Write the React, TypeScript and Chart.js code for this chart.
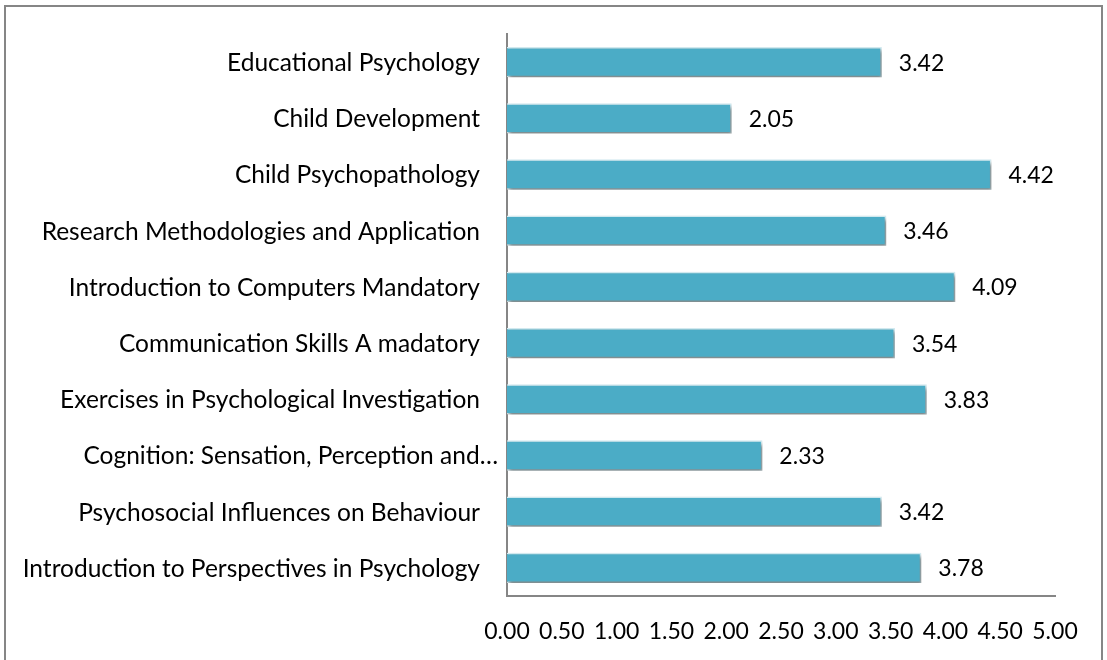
import React, { useEffect, useRef } from "react";
import { Chart, registerables } from "chart.js";

Chart.register(...registerables);

const categories: string[] = [
  "Educational Psychology",
  "Child Development",
  "Child Psychopathology",
  "Research Methodologies and Application",
  "Introduction to Computers Mandatory",
  "Communication Skills A madatory",
  "Exercises in Psychological Investigation",
  "Cognition: Sensation, Perception and…",
  "Psychosocial Influences on Behaviour",
  "Introduction to Perspectives in Psychology",
];

const values: number[] = [3.42, 2.05, 4.42, 3.46, 4.09, 3.54, 3.83, 2.33, 3.42, 3.78];

const xMin = 0;
const xMax = 5;
const xStep = 0.5;

const FONT = "Lato";
const LABEL_SIZE = 24.5;
const NUM_SIZE = 23;

const frame = {
  id: "frame",
  beforeDraw(chart: any) {
    const ctx = chart.ctx;
    ctx.save();
    ctx.fillStyle = "#ffffff";
    ctx.fillRect(0, 0, chart.width, chart.height);
    ctx.strokeStyle = "#868686";
    ctx.lineWidth = 2;
    ctx.strokeRect(5, 6, chart.width - 10, chart.height + 20);
    ctx.restore();
  },
};

const categoryLabels = {
  id: "categoryLabels",
  afterDraw(chart: any) {
    const ctx = chart.ctx;
    const y = chart.scales.y;
    ctx.save();
    ctx.fillStyle = "#000000";
    ctx.font = `${LABEL_SIZE}px ${FONT}`;
    ctx.textAlign = "right";
    ctx.textBaseline = "middle";
    categories.forEach((c, i) => {
      const truncated = c.endsWith("…");
      const x = chart.chartArea.left - (truncated ? 9 : 27);
      ctx.fillText(c, x, y.getPixelForValue(i) + 1);
    });
    ctx.restore();
  },
};

const barShadow = {
  id: "barShadow",
  beforeDatasetsDraw(chart: any) {
    const ctx = chart.ctx;
    ctx.save();
    ctx.shadowColor = "rgba(0,0,0,0.45)";
    ctx.shadowOffsetX = 2;
    ctx.shadowOffsetY = 3;
    ctx.shadowBlur = 4;
  },
  afterDatasetsDraw(chart: any) {
    const ctx = chart.ctx;
    ctx.restore();
    const meta = chart.getDatasetMeta(0);
    ctx.save();
    ctx.fillStyle = "#000000";
    ctx.font = `${NUM_SIZE}px ${FONT}`;
    ctx.textAlign = "left";
    ctx.textBaseline = "middle";
    meta.data.forEach((bar: any, i: number) => {
      ctx.fillText(values[i].toFixed(2), bar.x + 17, bar.y + 1);
    });
    ctx.restore();
  },
};

export default function App() {
  const ref = useRef<HTMLCanvasElement | null>(null);
  useEffect(() => {
    if (!ref.current) return;
    const chart = new Chart(ref.current, {
      type: "bar",
      data: {
        labels: categories,
        datasets: [
          {
            data: values,
            backgroundColor: "#4BACC6",
            borderColor: "#d6eef4",
            borderWidth: 1.5,
            categoryPercentage: 1,
            barPercentage: 0.54,
          },
        ],
      },
      options: {
        indexAxis: "y",
        responsive: false,
        animation: false,
        layout: { padding: { left: 0, top: 34, right: 52, bottom: 0 } },
        plugins: { legend: { display: false }, tooltip: { enabled: false } },
        scales: {
          x: {
            min: xMin,
            max: xMax,
            ticks: {
              stepSize: xStep,
              color: "#000000",
              font: { family: FONT, size: NUM_SIZE },
              padding: 22,
              maxRotation: 0,
              autoSkip: false,
              callback: (v: any) => Number(v).toFixed(2),
            },
            grid: { display: false, drawTicks: false },
            border: { display: true, color: "#868686", width: 2 },
            afterFit: (s: any) => {
              s.height = 64;
            },
          },
          y: {
            ticks: { display: false },
            grid: { display: false, drawTicks: false },
            border: { display: true, color: "#868686", width: 2 },
            afterFit: (s: any) => {
              s.width = 507;
            },
          },
        },
      },
      plugins: [frame, barShadow, categoryLabels],
    });
    return () => chart.destroy();
  }, []);
  return (
    <div style={{ position: "absolute", left: 0, top: 0, width: 1107, height: 660 }}>
      <canvas ref={ref} width={1107} height={660} />
    </div>
  );
}
